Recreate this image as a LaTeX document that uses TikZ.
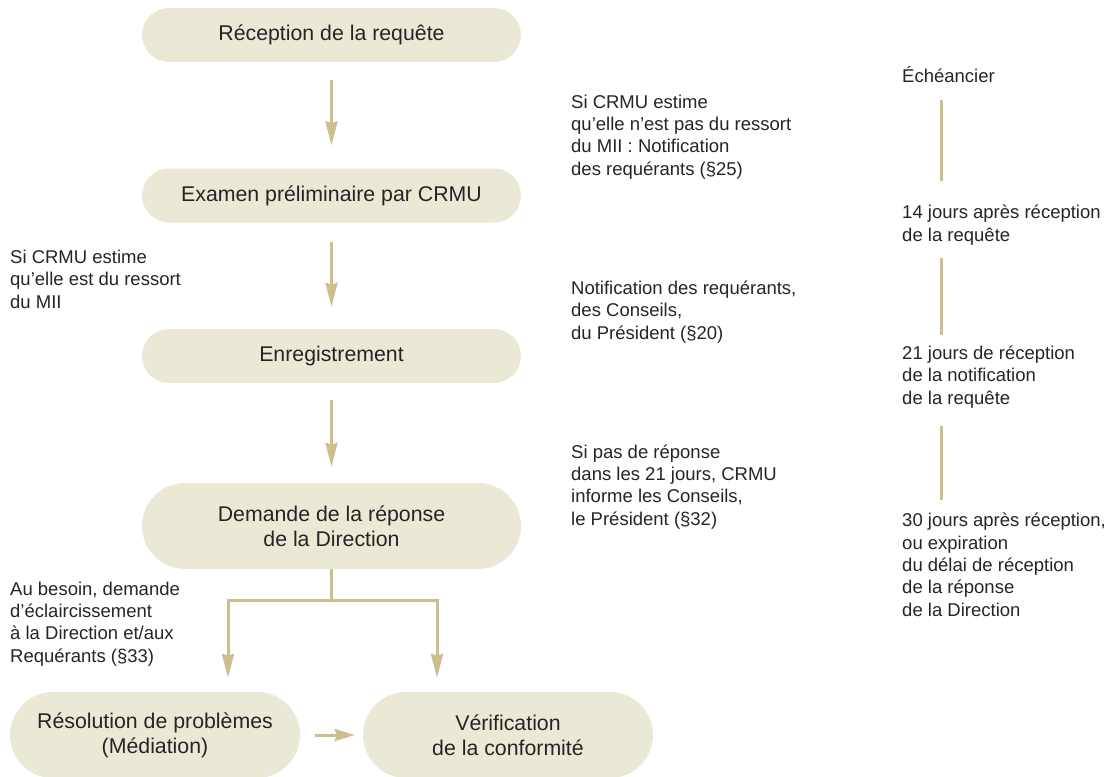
\documentclass[tikz,border=0pt]{standalone}
\usepackage{fontspec}
\setmainfont{Liberation Sans}
\usetikzlibrary{arrows.meta}
\usetikzlibrary{positioning}
\definecolor{boxfill}{RGB}{236,232,214}
\definecolor{tan}{RGB}{205,190,142}
\definecolor{ink}{RGB}{38,36,36}

\begin{document}
\begin{tikzpicture}[x=1pt,y=-1pt,
    stage/.style={fill=boxfill, rounded corners=27pt, minimum width=379pt, minimum height=54pt, inner sep=0pt, text=ink, align=center, font=\fontsize{21.3}{25}\selectfont},
    stagetall/.style={stage, rounded corners=43pt, minimum height=86pt},
    note/.style={anchor=base west, inner sep=0pt, text=ink, align=left, font=\fontsize{18.5}{22.3}\selectfont},
    flow/.style={draw=tan, line width=3pt, -{Stealth[length=24pt,width=12pt,inset=2pt]}},
    tline/.style={draw=tan, line width=3pt}]
    \useasboundingbox (0,0) rectangle (1118,776);

    % main flow
    \node[stage] (recep) at (331.5,35) {Réception de la requête};
    \node[stage] (exam) at (331.5,195.5) {Examen préliminaire par CRMU};
    \node[stage] (enreg) at (331.5,356) {Enregistrement};
    \node[stagetall] (dem) at (331.5,526) {Demande de la réponse\\de la Direction};
    \node[stagetall, minimum width=290pt] (resol) at (155,735) {Résolution de problèmes\\(Médiation)};
    \node[stagetall, minimum width=290pt] (verif) at (508,735) {Vérification\\de la conformité};

    \draw[flow, shorten <=18pt, shorten >=23pt] (recep) -- (exam);
    \draw[flow, shorten <=19pt, shorten >=22pt] (exam) -- (enreg);
    \draw[flow, shorten <=17pt, shorten >=16pt] (enreg) -- (dem);

    \coordinate (forkL) at (228,600);
    \coordinate (forkR) at (437,600);
    \draw[flow, shorten >=14pt] (dem.south) -- (dem.south |- forkL) -- (forkL) -- (forkL |- resol.north);
    \draw[flow, shorten >=14pt] (dem.south |- forkR) -- (forkR) -- (forkR |- verif.north);
    \draw[flow, -{Stealth[length=20pt,width=12pt,inset=2pt]}, shorten <=15pt, shorten >=8pt] (resol) -- (verif);

    % notes (base = last line)
    \node[note] (ifyes) at (10,308) {Si CRMU estime\\qu’elle est du ressort\\du MII};
    \node[note] (clarif) at (10,662) {Au besoin, demande\\d’éclaircissement\\à la Direction et/aux\\Requérants (§33)};
    \node[note] (ifno) at (571,175) {Si CRMU estime\\qu’elle n’est pas du ressort\\du MII : Notification\\des requérants (§25)};
    \node[note] (notif) at (571,339) {Notification des requérants,\\des Conseils,\\du Président (§20)};
    \node[note] (norep) at (571,525) {Si pas de réponse\\dans les 21 jours, CRMU\\informe les Conseils,\\le Président (§32)};

    % timeline
    \node[note] (ech) at (902,82) {Échéancier};
    \node[note] (t14) at (902,241) {14 jours après réception\\de la requête};
    \node[note] (t21) at (902,404) {21 jours de réception\\de la notification\\de la requête};
    \node[note] (t30) at (902,616) {30 jours après réception,\\ou expiration\\du délai de réception\\de la réponse\\de la Direction};

    \coordinate (tl) at (941,0);
    \draw[tline, shorten <=18pt, shorten >=24pt] (tl |- ech.south) -- (tl |- t14.north);
    \draw[tline, shorten <=13pt, shorten >=11pt] (tl |- t14.south) -- (tl |- t21.north);
    \draw[tline, shorten <=18pt, shorten >=13pt] (tl |- t21.south) -- (tl |- t30.north);
\end{tikzpicture}
\end{document}
